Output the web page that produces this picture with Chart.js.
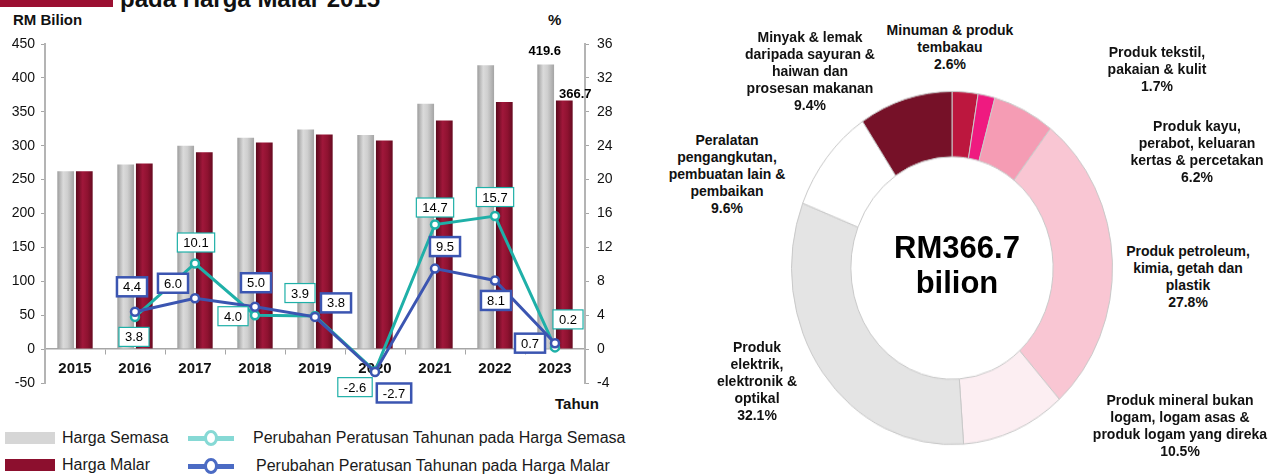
<!DOCTYPE html>
<html>
<head>
<meta charset="utf-8">
<script src="https://cdn.jsdelivr.net/npm/chart.js@4.4.1/dist/chart.umd.min.js"></script>
<style>
  body { margin:0; width:1274px; height:475px; background:#fff; position:relative; overflow:hidden;
         font-family:'Liberation Sans', Arial, sans-serif; color:#111; }
  .abs { position:absolute; }
  #barWrap { left:0; top:0; width:640px; height:420px; }
  #pieWrap { left:791px; top:107px; width:322px; height:322px; transform:scaleY(1.1); transform-origin:50% 50%; }
  .ttl { font-weight:bold; font-size:15px; line-height:18px; white-space:nowrap; }
  .plabel { font-weight:bold; font-size:14px; line-height:17px; text-align:center; white-space:pre; transform:translateX(-50%); color:#111; }
  .leg { font-size:16px; line-height:18px; white-space:nowrap; color:#1a1a1a; }
  .sw { width:50px; height:12px; }
  .lsym { width:46px; height:16px; }
  .lsym .ln { position:absolute; left:0; top:5.5px; width:46px; height:5px; }
  .lsym .dot { position:absolute; left:16px; top:0; width:8px; height:10px; border-radius:50%; background:#fff; border:3.5px solid; }
</style>
</head>
<body>
<div class="abs" style="left:0;top:0;width:113px;height:7px;background:#9B1032"></div>
<div class="abs" style="left:120px;top:-13px;font-weight:bold;font-size:24px;line-height:24px;white-space:nowrap">pada Harga Malar 2015</div>
<div class="abs ttl" style="left:13px;top:11px">RM Bilion</div>
<div class="abs ttl" style="left:548px;top:11px">%</div>
<div class="abs ttl" style="left:555px;top:395px">Tahun</div>

<div id="barWrap" class="abs"><canvas id="barChart" width="640" height="420"></canvas></div>
<div id="pieWrap" class="abs"><canvas id="pieChart" width="322" height="322"></canvas></div>
<div id="pieText"></div>
<div id="legend"></div>

<script>
// data
const tahun = ['2015', '2016', '2017', '2018', '2019', '2020', '2021', '2022', '2023'];
const hargaSemasa = [262.4, 272.4, 299.9, 311.9, 324.0, 315.6, 362.0, 418.8, 419.6];
const hargaMalar = [262.4, 273.9, 290.3, 304.8, 316.4, 307.8, 337.0, 364.3, 366.7];
const ubahSemasa = [null, 3.8, 10.1, 4.0, 3.9, -2.6, 14.7, 15.7, 0.2];
const ubahMalar = [null, 4.4, 6.0, 5.0, 3.8, -2.7, 9.5, 8.1, 0.7];
const tickKiri = [-50, 0, 50, 100, 150, 200, 250, 300, 350, 400, 450];
const tickKanan = [-4, 0, 4, 8, 12, 16, 20, 24, 28, 32, 36];

const sektor = [
    'Minuman & produk\ntembakau',
    'Produk tekstil,\npakaian & kulit',
    'Produk kayu,\nperabot, keluaran\nkertas & percetakan',
    'Produk petroleum,\nkimia, getah dan\nplastik',
    'Produk mineral bukan\nlogam, logam asas &\nproduk logam yang direka',
    'Produk\nelektrik,\nelektronik &\noptikal',
    'Peralatan\npengangkutan,\npembuatan lain &\npembaikan',
    'Minyak & lemak\ndaripada sayuran &\nhaiwan dan\nprosesan makanan'
];
const peratus = [2.6, 1.7, 6.2, 27.8, 10.5, 32.1, 9.6, 9.4];

// styles / placement
const warnaSektor = ['#BC173E', '#EF1A80', '#F59CB4', '#F9C6D3', '#FCEEF2', '#E4E4E4', '#FFFFFF', '#761128'];
const posSektor = [[950, 30], [1157, 52], [1197, 126], [1188, 251], [1180, 400], [757, 347], [727, 140], [810, 37]];
const posSemasa = [null, [-1, 20], [1, -21], [-22, 1], [-15, -23], [-20, 16], [0, -17], [0, -19], [13, -28]];
const posMalar = [null, [-3, -25], [-22, -15], [1, -24], [21, -14], [19, 21], [10, -22], [1, 20], [-25, 0]];

const FONT = "'Liberation Sans', Arial, sans-serif";
Chart.defaults.font.family = FONT;
Chart.defaults.color = '#111';

function barFill(stops, flat) {
    return c => {
        const el = c.element;
        if (!el || el.width === undefined || isNaN(el.x)) return flat;
        const g = c.chart.ctx.createLinearGradient(el.x - el.width / 2, 0, el.x + el.width / 2, 0);
        stops.forEach(s => g.addColorStop(s[0], s[1]));
        return g;
    };
}

const labelPlugin = {
    id: 'labelPlugin',
    afterDatasetsDraw(chart) {
        const ctx = chart.ctx;
        chart.data.datasets.forEach((ds, di) => {
            const meta = chart.getDatasetMeta(di);
            if (ds.kotak) {
                meta.data.forEach((pt, i) => {
                    const v = ds.data[i];
                    if (v === null) return;
                    const off = ds.kotak[i];
                    const txt = v.toFixed(1);
                    ctx.save();
                    ctx.font = '13px ' + FONT;
                    const w = ctx.measureText(txt).width + 12;
                    const h = 19;
                    const cx = pt.x + off[0], cy = pt.y + off[1];
                    ctx.fillStyle = '#fff';
                    ctx.fillRect(cx - w / 2, cy - h / 2, w, h);
                    ctx.lineWidth = ds.kotakTebal;
                    ctx.strokeStyle = ds.borderColor;
                    ctx.strokeRect(cx - w / 2, cy - h / 2, w, h);
                    ctx.fillStyle = '#000';
                    ctx.textAlign = 'center';
                    ctx.textBaseline = 'middle';
                    ctx.fillText(txt, cx, cy + 1);
                    ctx.restore();
                });
            }
            if (ds.nilai) {
                const bar = meta.data[ds.nilai.index];
                ctx.save();
                ctx.font = 'bold 13px ' + FONT;
                ctx.fillStyle = '#000';
                ctx.textAlign = 'center';
                ctx.textBaseline = 'middle';
                ctx.fillText(ds.data[ds.nilai.index].toFixed(1), bar.x + ds.nilai.dx, bar.y + ds.nilai.dy);
                ctx.restore();
            }
        });
    }
};

const axisGrey = '#A6A6A6';

const barChart = new Chart(document.getElementById('barChart'), {
    type: 'bar',
    data: {
        labels: tahun,
        datasets: [{
            label: 'Harga Semasa',
            data: hargaSemasa,
            yAxisID: 'y',
            order: 3,
            backgroundColor: barFill([[0, '#9C9C9C'], [0.35, '#DADADA'], [0.6, '#CFCFCF'], [1, '#A4A4A4']], '#C8C8C8'),
            categoryPercentage: 0.62,
            barPercentage: 0.9,
            nilai: { index: 8, dx: -1, dy: -13 }
        }, {
            label: 'Harga Malar',
            data: hargaMalar,
            yAxisID: 'y',
            order: 4,
            backgroundColor: barFill([[0, '#5A0A1D'], [0.4, '#A0173A'], [0.7, '#8E1230'], [1, '#680B21']], '#8C0F2E'),
            categoryPercentage: 0.62,
            barPercentage: 0.9,
            nilai: { index: 8, dx: 11, dy: -6 }
        }, {
            type: 'line',
            label: 'Perubahan Peratusan Tahunan pada Harga Semasa',
            data: ubahSemasa,
            yAxisID: 'y1',
            order: 2,
            borderColor: '#1FB0A8',
            borderWidth: 3,
            pointRadius: 4,
            pointBorderWidth: 2.5,
            pointBackgroundColor: '#fff',
            clip: false,
            kotak: posSemasa,
            kotakTebal: 1.2
        }, {
            type: 'line',
            label: 'Perubahan Peratusan Tahunan pada Harga Malar',
            data: ubahMalar,
            yAxisID: 'y1',
            order: 1,
            borderColor: '#3B55B1',
            borderWidth: 3,
            pointRadius: 4,
            pointBorderWidth: 2.5,
            pointBackgroundColor: '#fff',
            clip: false,
            kotak: posMalar,
            kotakTebal: 2.5
        }]
    },
    options: {
        responsive: false,
        animation: false,
        events: [],
        layout: { padding: { top: 44, bottom: 37, left: 0, right: 0 } },
        plugins: { legend: { display: false }, tooltip: { enabled: false } },
        scales: {
            x: {
                position: { y: 0 },
                offset: true,
                grid: { drawOnChartArea: false, tickLength: 5, color: axisGrey, offset: true },
                border: { color: axisGrey, width: 1.5 },
                ticks: { font: { size: 15, weight: 'bold' }, color: '#111', padding: 6 }
            },
            y: {
                position: 'left',
                min: -50,
                max: 450,
                afterBuildTicks: s => { s.ticks = tickKiri.map(v => ({ value: v })); },
                afterFit: s => { s.width = 45; },
                grid: { drawOnChartArea: false, tickLength: 4, color: axisGrey },
                border: { color: '#B4B4B4', width: 2 },
                ticks: { font: { size: 14 }, color: '#111', padding: 6 }
            },
            y1: {
                position: 'right',
                min: -4,
                max: 36,
                afterBuildTicks: s => { s.ticks = tickKanan.map(v => ({ value: v })); },
                afterFit: s => { s.width = 55; },
                grid: { drawOnChartArea: false, tickLength: 4, color: axisGrey },
                border: { color: '#B4B4B4', width: 2 },
                ticks: { font: { size: 14 }, color: '#111', padding: 8 }
            }
        }
    },
    plugins: [labelPlugin]
});
barChart.update();

const pieChart = new Chart(document.getElementById('pieChart'), {
    type: 'doughnut',
    data: {
        labels: sektor,
        datasets: [{
            data: peratus,
            backgroundColor: warnaSektor,
            borderColor: '#C9C9C9',
            borderWidth: 1
        }]
    },
    options: {
        responsive: false,
        animation: false,
        events: [],
        cutout: '63%',
        rotation: 0,
        plugins: { legend: { display: false }, tooltip: { enabled: false } }
    }
});

// donut labels and centre text
const pieText = document.getElementById('pieText');
sektor.forEach((s, i) => {
    const d = document.createElement('div');
    d.className = 'abs plabel';
    d.style.left = posSektor[i][0] + 'px';
    d.style.top = (posSektor[i][1] - 8.5) + 'px';
    d.textContent = s + '\n' + peratus[i].toFixed(1) + '%';
    pieText.appendChild(d);
});
const tengah = document.createElement('div');
tengah.className = 'abs';
tengah.style.cssText = 'left:957px;top:230px;transform:translateX(-50%);font-weight:bold;font-size:31px;line-height:35px;text-align:center;white-space:pre;color:#000';
tengah.textContent = 'RM' + hargaMalar[hargaMalar.length - 1].toFixed(1) + '\nbilion';
pieText.appendChild(tengah);

// legend
const legend = document.getElementById('legend');
function legendItem(html) {
    legend.insertAdjacentHTML('beforeend', html);
}
legendItem('<div class="abs sw" style="left:5px;top:432px;background:#D6D6D6"></div>');
legendItem('<div class="abs leg" style="left:62px;top:429px">' + barChart.data.datasets[0].label + '</div>');
legendItem('<div class="abs sw" style="left:5px;top:459px;background:#8C0F2E"></div>');
legendItem('<div class="abs leg" style="left:62px;top:456px">' + barChart.data.datasets[1].label + '</div>');
legendItem('<div class="abs lsym" style="left:188px;top:430px"><div class="ln" style="background:#86D9D5"></div><div class="dot" style="border-color:#86D9D5"></div></div>');
legendItem('<div class="abs leg" style="left:253px;top:429px">' + barChart.data.datasets[2].label + '</div>');
legendItem('<div class="abs lsym" style="left:188px;top:458px"><div class="ln" style="background:#4B6BC4"></div><div class="dot" style="border-color:#4B6BC4"></div></div>');
legendItem('<div class="abs leg" style="left:256px;top:457px">' + barChart.data.datasets[3].label + '</div>');
</script>
</body>
</html>
